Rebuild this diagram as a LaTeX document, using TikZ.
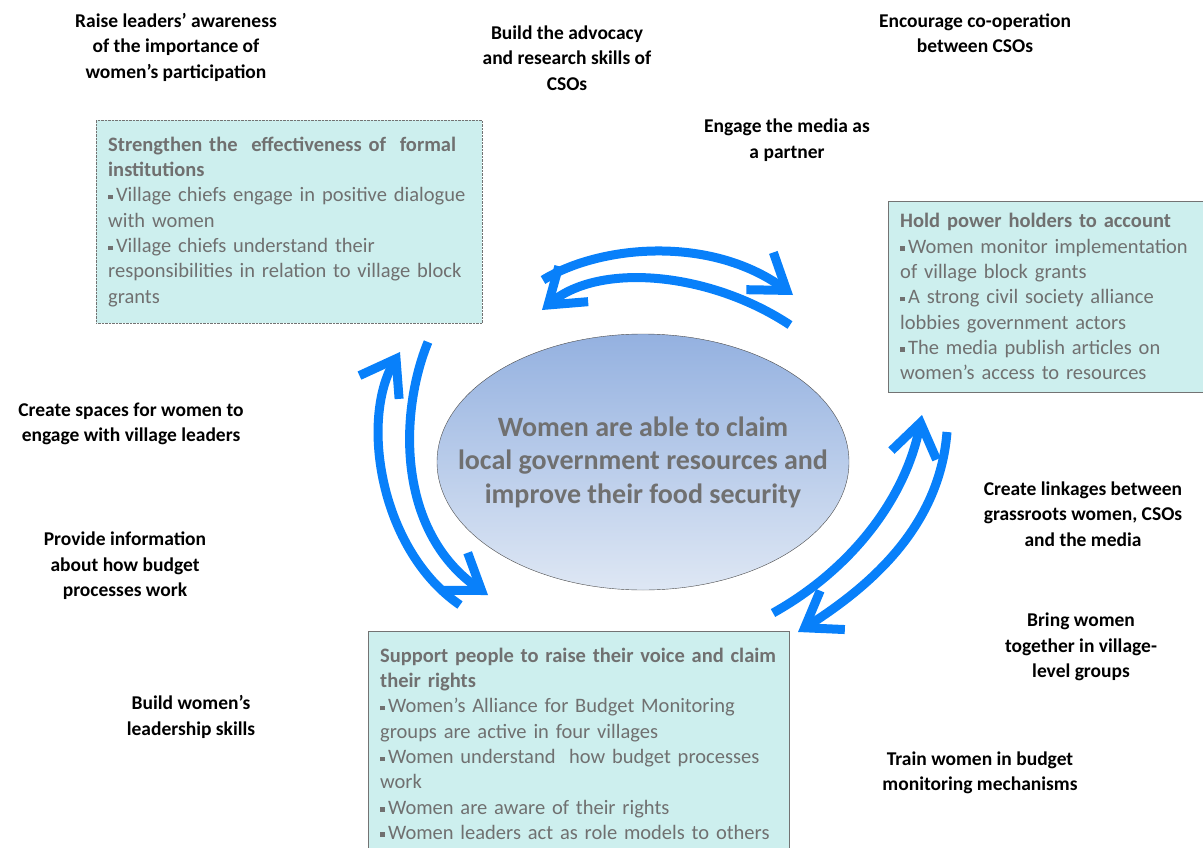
\documentclass[tikz,border=0pt]{standalone}
\usepackage{fontspec}
\setmainfont{Carlito}
\usepackage{tikz}
\usetikzlibrary{arrows.meta, shapes.geometric}
\definecolor{flowblue}{RGB}{8,128,250}
\definecolor{boxfill}{RGB}{205,239,238}
\definecolor{boxtext}{RGB}{112,112,112}
\definecolor{ovaltop}{RGB}{148,177,224}
\definecolor{ovalbottom}{RGB}{222,231,244}
\newcommand{\sqbul}{\raisebox{0.25ex}{\rule{4.5pt}{4.5pt}}\,}
\tikzset{
		activity/.style={
			align=center,
			inner sep=0pt,
			font=\fontsize{19.5}{25.5}\selectfont\bfseries
		},
		outcome/.style={
			rectangle,
			draw=black!55,
			fill=boxfill,
			anchor=north west,
			align=left,
			text=boxtext,
			inner xsep=12pt,
			inner ysep=6pt,
			font=\fontsize{20.5}{25.3}\selectfont
		},
		goal/.style={
			ellipse,
			draw=black!70,
			top color=ovaltop,
			bottom color=ovalbottom,
			minimum width=412pt,
			minimum height=256pt,
			inner sep=0pt
		},
		goal text/.style={
			align=center,
			inner sep=0pt,
			text=boxtext,
			font=\fontsize{28}{33.5}\selectfont\bfseries
		},
		flow/.style={
			draw=flowblue,
			line width=9pt,
			-{Straight Barb[length=33pt, width=46pt]}
		}
	}
\begin{document}
\begin{tikzpicture}[x=1pt, y=-1pt]
	\useasboundingbox (0,0) rectangle (1203,847);
	\node[goal] (goal) at (643,462) {};
	\node[goal text] (goaltext) at (goal.center)
		{Women are able to claim\\local government resources and\\improve their food security};
	\node[outcome, densely dotted, text width=362pt, minimum height=203pt] (formal) at (96,120)
		{\textbf{Strengthen the \ effectiveness of \ formal}\\\textbf{institutions}\\
		 \sqbul Village chiefs engage in positive dialogue\\with women\\
		 \sqbul Village chiefs understand their\\responsibilities in relation to village block\\grants};
	\node[outcome, text width=292pt, minimum height=191pt] (account) at (888,201)
		{\textbf{Hold power holders to account}\\
		 \sqbul Women monitor implementation\\of village block grants\\
		 \sqbul A strong civil society alliance\\lobbies government actors\\
		 \sqbul The media publish articles on\\women’s access to resources};
	\node[outcome, text width=397pt, minimum height=225pt] (voice) at (368,631)
		{\textbf{Support people to raise their voice and claim}\\\textbf{their rights}\\
		 \sqbul Women’s Alliance for Budget Monitoring\\groups are active in four villages\\
		 \sqbul Women understand \ how budget processes\\work\\
		 \sqbul Women are aware of their rights\\
		 \sqbul Women leaders act as role models to others};
	\node[activity] (raise) at (176,47) {Raise leaders’ awareness\\of the importance of\\women’s participation};
	\node[activity] (advocacy) at (567,58) {Build the advocacy\\and research skills of\\CSOs};
	\node[activity] (cooperate) at (975,33) {Encourage co-operation\\between CSOs};
	\node[activity] (media) at (787,140) {Engage the media as\\a partner};
	\node[activity] (spaces) at (131,424) {Create spaces for women to\\engage with village leaders};
	\node[activity] (info) at (125,566) {Provide information\\about how budget\\processes work};
	\node[activity] (leaders) at (191,717) {Build women’s\\leadership skills};
	\node[activity] (linkages) at (1083,514) {Create linkages between\\grassroots women, CSOs\\and the media};
	\node[activity] (groups) at (1081,647) {Bring women\\together in village-\\level groups};
	\node[activity] (train) at (980,773) {Train women in budget\\monitoring mechanisms};
	% cycle arrows
	\coordinate (ta) at (543,280);
	\coordinate (tb) at (793,295);
	\coordinate (tc) at (790,325);
	\coordinate (td) at (542,310);
	\draw[flow] (ta) .. controls (600,245) and (710,235) .. (tb);
	\draw[flow] (tc) .. controls (710,272) and (600,262) .. (td);
	\coordinate (la) at (460,605);
	\coordinate (lb) at (400,352);
	\coordinate (lc) at (428,342);
	\coordinate (ld) at (488,595);
	\draw[flow] (la) .. controls (380,550) and (360,420) .. (lb);
	\draw[flow] (lc) .. controls (400,410) and (395,530) .. (ld);
	\coordinate (ra) at (773,613);
	\coordinate (rb) at (922,415);
	\coordinate (rc) at (947,432);
	\coordinate (rd) at (798,632);
	\draw[flow] (ra) .. controls (850,570) and (905,500) .. (rb);
	\draw[flow] (rc) .. controls (940,520) and (880,580) .. (rd);
\end{tikzpicture}
\end{document}
